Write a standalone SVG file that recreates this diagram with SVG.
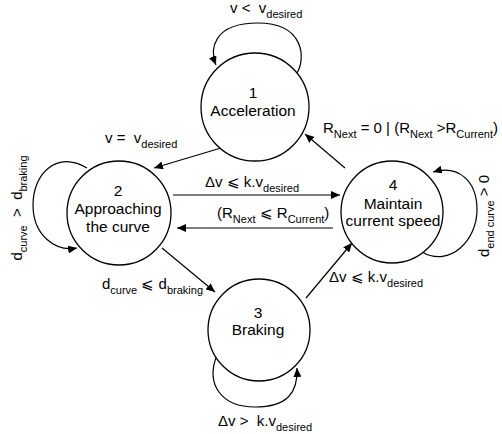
<svg xmlns="http://www.w3.org/2000/svg" width="502" height="434" viewBox="0 0 502 434">
<style>
.n{fill:#fff;stroke:#000;stroke-width:1.3}
.t{font-family:"Liberation Sans",Arial,sans-serif;font-size:15.5px;fill:#000;text-anchor:middle}
.l{font-family:"Liberation Sans",Arial,sans-serif;font-size:15px;fill:#000}
.s{font-size:11px}
.e{fill:none;stroke:#000;stroke-width:1.2;marker-end:url(#a)}
</style>
<defs>
<marker id="a" markerUnits="userSpaceOnUse" markerWidth="10" markerHeight="8" refX="9" refY="4" orient="auto">
<path d="M0,0 L9,4 L0,8 Z" fill="#000"/>
</marker>
</defs>
<g id="connectors">
<path class="e" d="M297,73 C306,58 304,23 258,23 C212,23 210,50 216,65"/>
<path class="e" d="M87,168 C55,150 33,175 33,205 C33,235 55,252 77,248"/>
<path class="e" d="M422,252 C450,268 477,240 477,210 C477,180 458,165 433,172"/>
<path class="e" d="M217,355 C205,385 222,407 255,407 C288,407 298,392 297,368"/>
<path class="e" d="M221,148 L154,168"/>
<path class="e" d="M345,168 L305,134"/>
<path class="e" d="M173,195 L340,195"/>
<path class="e" d="M333,228 L177,228"/>
<path class="e" d="M162,248 L215,292"/>
<path class="e" d="M306,298 L352,243"/>
</g>
<g id="node1">
<circle class="n" cx="255" cy="107" r="54"/>
<text class="t" x="253" y="98">1</text>
<text class="t" x="253" y="116">Acceleration</text>
</g>
<g id="node2">
<circle class="n" cx="119" cy="213" r="52"/>
<text class="t" x="118" y="196">2</text>
<text class="t" x="118" y="214">Approaching</text>
<text class="t" x="118" y="232">the curve</text>
</g>
<g id="node3">
<circle class="n" cx="259" cy="330" r="51"/>
<text class="t" x="258" y="318">3</text>
<text class="t" x="258" y="335">Braking</text>
</g>
<g id="node4">
<circle class="n" cx="392" cy="212" r="51"/>
<text class="t" x="393" y="190">4</text>
<text class="t" x="393" y="209">Maintain</text>
<text class="t" x="393" y="226">current speed</text>
</g>
<g id="labels">
<text class="l" x="230" y="13" xml:space="preserve">v &lt;  v<tspan class="s" dy="5">desired</tspan></text>
<text class="l" x="105" y="143" xml:space="preserve">v =  v<tspan class="s" dy="5">desired</tspan></text>
<text class="l" transform="translate(22,208) rotate(-90)" text-anchor="middle" xml:space="preserve">d<tspan class="s" dy="5">curve</tspan><tspan dy="-5">  &gt;  d</tspan><tspan class="s" dy="5">braking</tspan></text>
<text class="l" x="102" y="289" xml:space="preserve">d<tspan class="s" dy="5">curve</tspan><tspan dy="-5"> ⩽ d</tspan><tspan class="s" dy="5">braking</tspan></text>
<text class="l" x="205" y="187" xml:space="preserve">Δv ⩽ k.v<tspan class="s" dy="5">desired</tspan></text>
<text class="l" x="217" y="218" xml:space="preserve">(R<tspan class="s" dy="5">Next</tspan><tspan dy="-5"> ⩽ R</tspan><tspan class="s" dy="5">Current</tspan><tspan dy="-5">)</tspan></text>
<text class="l" x="323" y="133" xml:space="preserve">R<tspan class="s" dy="5">Next</tspan><tspan dy="-5"> = 0 | (R</tspan><tspan class="s" dy="5">Next</tspan><tspan dy="-5"> &gt;R</tspan><tspan class="s" dy="5">Current</tspan><tspan dy="-5">)</tspan></text>
<text class="l" x="329" y="282" xml:space="preserve">Δv ⩽ k.v<tspan class="s" dy="5">desired</tspan></text>
<text class="l" transform="translate(489,216) rotate(-90)" text-anchor="middle" xml:space="preserve">d<tspan class="s" dy="5">end curve</tspan><tspan dy="-5"> &gt; 0</tspan></text>
<text class="l" x="218" y="426" xml:space="preserve">Δv &gt;  k.v<tspan class="s" dy="5">desired</tspan></text>
</g>
</svg>
